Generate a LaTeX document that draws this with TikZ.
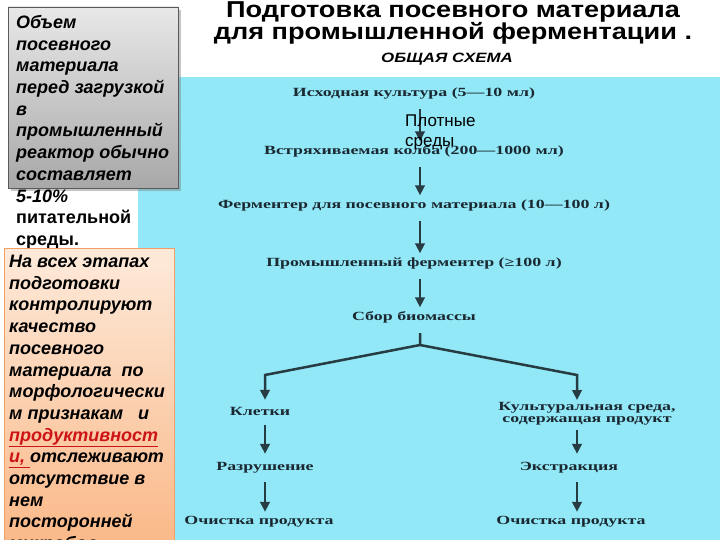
\documentclass[tikz,border=0pt]{standalone}
\usepackage{fontspec}
\usepackage{graphicx}
\setmainfont{Liberation Serif}
\newfontfamily\arial{Liberation Sans}
\usetikzlibrary{arrows.meta,shadows,calc}
\definecolor{bgblue}{RGB}{146,232,246}
\definecolor{flowtxt}{RGB}{26,40,50}
\definecolor{arrowc}{RGB}{38,60,66}
\definecolor{graytop}{RGB}{232,232,232}
\definecolor{graybot}{RGB}{168,168,168}
\definecolor{grayedge}{RGB}{90,90,90}
\definecolor{orgtop}{RGB}{253,234,218}
\definecolor{orgbot}{RGB}{250,182,132}
\definecolor{orgedge}{RGB}{240,160,100}
\definecolor{redtxt}{RGB}{205,20,20}
\newcommand{\hstr}[1]{\scalebox{1.43}[1]{#1}}
\newcommand{\tstr}[1]{\scalebox{1.18}[1]{#1}}
\begin{document}
\begin{tikzpicture}[x=1pt,y=-1pt,
  flow/.style={font=\bfseries\fontsize{12.5}{12}\selectfont, text=flowtxt, inner sep=0pt, text height=9pt, text depth=3pt, anchor=base},
  flow2/.style={font=\bfseries\fontsize{12.5}{12}\selectfont, text=flowtxt, inner sep=0pt, align=center, anchor=north},
  arr/.style={draw=arrowc, line width=2.5pt, -{Triangle[width=9.5pt,length=10pt]}},
  side/.style={font=\arial\bfseries\itshape\fontsize{18}{21.7}\selectfont, anchor=north west, inner sep=0pt, align=left},
  title/.style={font=\arial\bfseries\fontsize{23}{19}\selectfont, align=center, inner sep=0pt, anchor=north},
  sub/.style={font=\arial\bfseries\itshape\fontsize{13.5}{14}\selectfont, inner sep=0pt, anchor=base},
  lbl/.style={font=\arial\fontsize{17}{19.5}\selectfont, align=left, inner sep=0pt, anchor=north west}
]
\useasboundingbox (0,0) rectangle (720,540);
\clip (0,0) rectangle (720,540);
\fill[white] (0,0) rectangle (720,540);
\fill[bgblue] (138,77) rectangle (720,540);

% title
\node[title] (t1) at (453,1) {\tstr{Подготовка посевного материала}\\\tstr{для промышленной ферментации .}};
\node[sub] (t2) at (447,63) {\scalebox{1.25}[1]{ОБЩАЯ СХЕМА}};

% flow
\node[flow] (n1) at (414,96.5) {\hstr{Исходная культура (5—10 мл)}};
\node[flow] (n2) at (414,154.5) {\hstr{Встряхиваемая колба (200—1000 мл)}};
\node[flow] (n3) at (414,208.5) {\hstr{Ферментер для посевного материала (10—100 л)}};
\node[flow] (n4) at (414,266.5) {\hstr{Промышленный ферментер (≥100 л)}};
\node[flow] (n5) at (414,320.5) {\hstr{Сбор биомассы}};
\node[flow] (kl) at (260,415.5) {\hstr{Клетки}};
\node[flow2] (ks) at (587,402) {\hstr{Культуральная среда,}\\\hstr{содержащая продукт}};
\node[flow] (rz) at (265,470.5) {\hstr{Разрушение}};
\node[flow] (ex) at (569,470.5) {\hstr{Экстракция}};
\node[flow] (o1) at (259,524.5) {\hstr{Очистка продукта}};
\node[flow] (o2) at (571,524.5) {\hstr{Очистка продукта}};

\coordinate (split) at (420,345);
\coordinate (bl) at (265,375);
\coordinate (br) at (577,375);

\draw[arr, shorten <=9.5pt, shorten >=4pt] ([xshift=6pt]n1.south) -- ([xshift=6pt]n2.north);
\draw[arr, shorten <=9.5pt, shorten >=4pt] ([xshift=6pt]n2.south) -- ([xshift=6pt]n3.north);
\draw[arr, shorten <=9.5pt, shorten >=4pt] ([xshift=6pt]n3.south) -- ([xshift=6pt]n4.north);
\draw[arr, shorten <=9.5pt, shorten >=4pt] ([xshift=6pt]n4.south) -- ([xshift=6pt]n5.north);
\draw[arr, shorten <=9.5pt, shorten >=6.5pt] ([xshift=6pt]n5.south) -- (split) -- (bl) -- (kl.north -| bl);
\draw[arr, shorten >=2pt] (split) -- (br) -- (ks.north -| br);
\draw[arr, shorten <=6.5pt, shorten >=7.5pt] (kl.south -| bl) -- (rz.north -| bl);
\draw[arr, shorten <=8.5pt, shorten >=3.5pt] (rz.south -| bl) -- (o1.north -| bl);
\draw[arr, shorten <=4.5pt, shorten >=7.5pt] (ks.south -| br) -- (ex.north -| br);
\draw[arr, shorten <=8.5pt, shorten >=3.5pt] (ex.south -| br) -- (o2.north -| br);

\node[lbl] (pl) at (405,115) {Плотные\\среды};

% gray note
\draw[draw=grayedge, top color=graytop, bottom color=graybot, drop shadow={shadow xshift=3pt, shadow yshift=-3pt, opacity=0.45}] (8,7) rectangle (178,188);
\node[side] (g) at (16,15) {Объем\\посевного\\материала\\перед загрузкой\\в\\промышленный\\реактор обычно\\составляет\\5-10\%\\{\upshape питательной}\\{\upshape среды.}};

% orange note
\draw[draw=orgedge, top color=orgtop, bottom color=orgbot] (4,248) rectangle (174,560);
\node[side] (o) at (9,255) {На всех этапах\\подготовки\\контролируют\\качество\\посевного\\материала~ по\\морфологически\\м признакам ~ и\\{\color{redtxt}\underline{продуктивност}}\\{\color{redtxt}\underline{и,\ }}отслеживают\\отсутствие в\\нем\\посторонней\\микробов};
\end{tikzpicture}
\end{document}
